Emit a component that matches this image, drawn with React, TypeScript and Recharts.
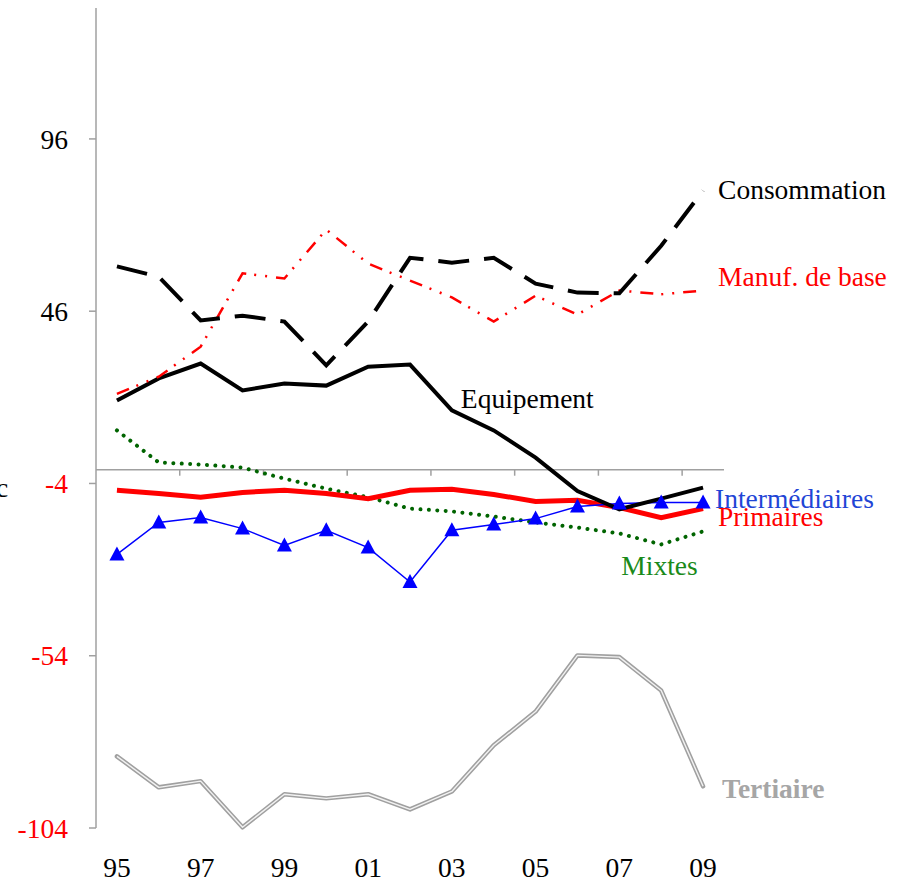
import React from "react";
import { LineChart, Line, XAxis, YAxis, ReferenceLine, LabelList, Label } from "recharts";

const years = [1995, 1996, 1997, 1998, 1999, 2000, 2001, 2002, 2003, 2004, 2005, 2006, 2007, 2008, 2009];
const consommation = [59, 56, 43.3, 44.7, 43, 30.3, 43, 61.5, 60.1, 61.5, 54, 51.4, 51.2, 65, 81];
const manufBase = [22, 27, 35.7, 57, 55.5, 69.7, 59.8, 54.9, 50, 43, 50.5, 45, 52, 50.9, 52];
const equipement = [20.1, 26.5, 30.8, 23, 25, 24.4, 29.9, 30.5, 17.2, 11.4, 3.5, -6.2, -11.5, -8.4, -5.2];
const mixtes = [11.4, 2.1, 1.5, 0.6, -2.6, -5.5, -8, -11.3, -12.1, -13.6, -15.3, -16.8, -18.5, -21.7, -17.9];
const primaires = [-6, -6.9, -8, -6.6, -6, -6.9, -8.4, -6, -5.7, -7.2, -9.2, -8.9, -11, -13.9, -11.3];
const intermediaires = [-24.6, -15.3, -13.9, -17.1, -22, -17.6, -22.6, -32.6, -17.6, -15.9, -14.2, -10.7, -9.8, -9.5, -9.5];
const tertiaire = [-83.2, -92.2, -90.4, -103.8, -94.2, -95.4, -94.2, -98.6, -93.4, -80, -70.2, -53.9, -54.4, -64.1, -91.9];

const yTicks = [96, 46, -4, -54, -104];
const xTicks = [1995, 1997, 1999, 2001, 2003, 2005, 2007, 2009];
const boundaryTicks = [1996.5, 1998.5, 2000.5, 2002.5, 2004.5, 2006.5, 2008.5];

const data = years.map((year, i) => ({
  year,
  consommation: consommation[i],
  manufBase: manufBase[i],
  equipement: equipement[i],
  mixtes: mixtes[i],
  primaires: primaires[i],
  intermediaires: intermediaires[i],
  tertiaire: tertiaire[i],
}));

const FONT = "'Liberation Serif', 'Times New Roman', serif";
const FS = 27.5;
const GRAY = "#a0a0a0";

const YTick = (props: any) => {
  const { x, y, payload } = props;
  return (
    <text x={x} y={y} dy="0.355em" textAnchor="end" fontSize={FS} fontFamily={FONT} fill={payload.value < 0 ? "#ff0000" : "#000000"}>
      {payload.value}
    </text>
  );
};

const makeLabel = (text: string, idx: number, dx: number, dy: number, color: string, bold = false) => (props: any) => {
  const { x, y, index } = props;
  if (index !== idx) return null;
  return (
    <text x={x + dx} y={y + dy} fontSize={FS} fontFamily={FONT} fill={color} fontWeight={bold ? "bold" : "normal"}>
      {text}
    </text>
  );
};

const Triangle = (props: any) => {
  const { cx, cy } = props;
  if (cx == null || cy == null) return null;
  return <path d={`M${cx},${cy - 8} L${cx + 7.5},${cy + 6} L${cx - 7.5},${cy + 6} Z`} fill="#0000ff" />;
};

export default function App() {
  return (
    <div style={{ position: "absolute", left: 0, top: 0, background: "#fff" }}>
      <LineChart width={901} height={881} data={data} margin={{ top: 8, right: 177, bottom: 0, left: 0 }}>
        <XAxis
          dataKey="year"
          type="number"
          domain={[1994.5, 2009.5]}
          ticks={xTicks}
          axisLine={false}
          tickLine={false}
          tickSize={0}
          tickMargin={29}
          height={53}
          interval={0}
          tick={{ fill: "#000", fontSize: FS, fontFamily: FONT }}
          tickFormatter={(v: number) => String(v % 100).padStart(2, "0")}
        />
        <YAxis
          type="number"
          domain={[-104, 134]}
          ticks={yTicks}
          width={96}
          interval={0}
          tickSize={7}
          tickMargin={21}
          axisLine={{ stroke: GRAY, strokeWidth: 1.5 }}
          tickLine={{ stroke: GRAY, strokeWidth: 1.5 }}
          tick={<YTick />}
        >
          <Label
            content={() => (
              <text x={-4} y={497} fontSize={FS} fontFamily={FONT} fill="#000">
                c
              </text>
            )}
          />
        </YAxis>
        <ReferenceLine y={0} stroke={GRAY} strokeWidth={1.5} />
        {boundaryTicks.map((b) => (
          <ReferenceLine
            key={b}
            segment={[
              { x: b, y: 0 },
              { x: b, y: -1.75 },
            ]}
            stroke={GRAY}
            strokeWidth={1.5}
          />
        ))}

        <Line type="linear" dataKey="tertiaire" stroke="#a0a0a0" strokeWidth={4.5} dot={false} isAnimationActive={false} strokeLinejoin="round" strokeLinecap="round" />
        <Line type="linear" dataKey="tertiaire" stroke="#f2f2f2" strokeWidth={1.4} dot={false} isAnimationActive={false} strokeLinejoin="round">
          <LabelList dataKey="tertiaire" content={makeLabel("Tertiaire", 14, 19, 12, "#a6a6a6", true)} />
        </Line>
        <Line type="linear" dataKey="mixtes" stroke="#006400" strokeWidth={4} strokeDasharray="0.01 8.4" strokeLinecap="round" dot={false} isAnimationActive={false}>
          <LabelList dataKey="mixtes" content={makeLabel("Mixtes", 12, 2, 42, "#1a8a1a")} />
        </Line>
        <Line type="linear" dataKey="primaires" stroke="#ff0000" strokeWidth={5} dot={false} isAnimationActive={false}>
          <LabelList dataKey="primaires" content={makeLabel("Primaires", 14, 15, 17, "#ff0000")} />
        </Line>
        <Line type="linear" dataKey="intermediaires" stroke="#0000ff" strokeWidth={1.5} dot={<Triangle />} isAnimationActive={false}>
          <LabelList dataKey="intermediaires" content={makeLabel("Intermédiaires", 14, 12, 6, "#1f45d6")} />
        </Line>
        <Line type="linear" dataKey="equipement" stroke="#000000" strokeWidth={4} dot={false} isAnimationActive={false}>
          <LabelList dataKey="equipement" content={makeLabel("Equipement", 8, 9, -2, "#000000")} />
        </Line>
        <Line type="linear" dataKey="manufBase" stroke="#ff0000" strokeWidth={2.5} strokeDasharray="13 8 2 9 2 9" dot={false} isAnimationActive={false}>
          <LabelList dataKey="manufBase" content={makeLabel("Manuf. de base", 14, 15, -5, "#ff0000")} />
        </Line>
        <Line type="linear" dataKey="consommation" stroke="#000000" strokeWidth={4} strokeDasharray="31 15" dot={false} isAnimationActive={false}>
          <LabelList dataKey="consommation" content={makeLabel("Consommation", 14, 15, 8, "#000000")} />
        </Line>
      </LineChart>
    </div>
  );
}
